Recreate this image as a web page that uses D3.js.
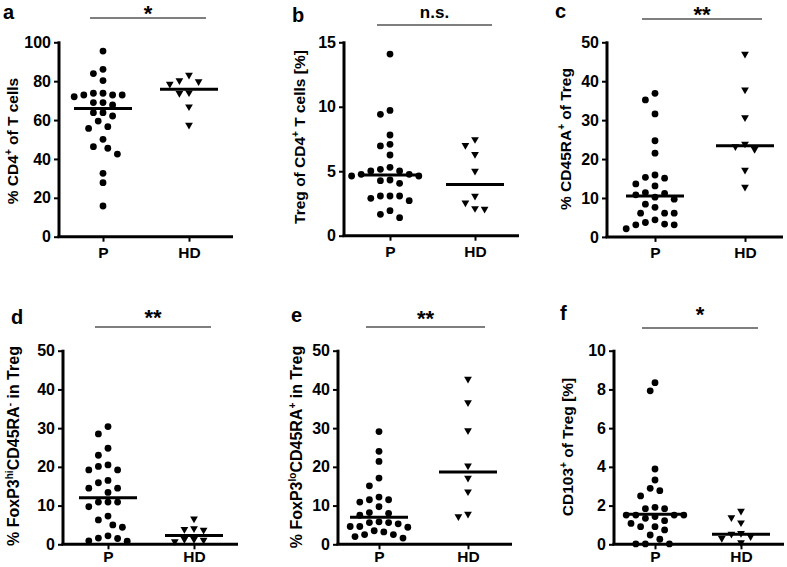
<!DOCTYPE html>
<html>
<head>
<meta charset="utf-8">
<script src="https://cdn.jsdelivr.net/npm/d3@7"></script>
<style>
  body { margin: 0; background: #fff; }
  svg text { font-family: "Liberation Sans", Arial, sans-serif; font-weight: bold; fill: #000; }
</style>
</head>
<body>
<div id="graphicContainer"></div>
<script>

var groups = ["P", "HD"];

// a: % CD4+ of T cells
var cd4P = [95.5, 86.1, 83.9, 80.3, 72.9, 72.9, 73.8, 73.8, 72.0, 72.9, 69.0, 67.8, 69.0,
            63.8, 63.8, 62.1, 59.5, 56.6, 55.7, 50.1, 46.3, 45.5, 42.5, 32.6, 27.8, 15.8];
var cd4HD = [80.3, 78.6, 79.8, 83.2, 73.8, 74.1, 66.9, 57.5];
var cd4Median = [66.0, 75.8];

// b: Treg of CD4+ T cells
var tregP = [14.09, 9.41, 9.72, 7.81, 6.96, 7.09, 6.26, 5.30, 5.02, 5.02, 5.15, 4.76, 4.63,
             4.63, 4.76, 4.32, 4.27, 4.06, 3.08, 2.90, 2.72, 3.08, 3.08, 1.94, 1.66, 1.40];
var tregHD = [7.47, 7.01, 6.31, 5.02, 3.08, 2.56, 2.07, 2.12];
var tregMedian = [4.71, 3.98];

// c: % CD45RA+ of Treg
var cd45P = [35.2, 36.9, 31.6, 24.7, 21.5, 15.3, 15.9, 15.1, 13.6, 13.1, 11.4, 10.8, 9.7,
             10.2, 11.2, 7.6, 8.4, 6.1, 6.1, 6.1, 3.7, 3.1, 2.1, 3.1, 3.3, 4.4];
var cd45HD = [47.0, 37.8, 30.7, 23.9, 22.5, 23.2, 17.2, 12.8];
var cd45Median = [10.5, 23.4];

// d: % FoxP3hi CD45RA- in Treg
var hiP = [30.4, 28.5, 24.8, 23.0, 20.5, 19.2, 19.2, 20.1, 15.9, 14.5, 14.5, 16.5, 13.4,
           10.9, 9.7, 10.9, 10.9, 7.3, 6.3, 5.0, 4.4, 2.2, 1.5, 0.8, 0.9, 1.6];
var hiHD = [6.6, 3.9, 3.7, 4.1, 1.3, 0.7, 1.1, 1.3];
var hiMedian = [12.0, 2.3];

// e: % FoxP3lo CD45RA+ in Treg
var loP = [29.1, 24.0, 21.4, 17.1, 15.1, 12.2, 11.5, 10.9, 11.5, 9.7, 8.2, 7.5, 8.0,
           5.6, 5.3, 4.6, 4.4, 4.6, 5.6, 5.8, 3.2, 2.5, 2.0, 1.6, 2.5, 3.5];
var loHD = [42.7, 36.6, 29.4, 20.3, 17.1, 13.6, 7.2, 7.8];
var loMedian = [7.0, 18.7];

// f: CD103+ of Treg
var cd103P = [8.35, 7.93, 3.89, 3.32, 2.89, 2.77, 2.50, 1.84, 1.91, 1.84, 1.51, 1.51, 1.43,
              1.51, 1.51, 1.34, 1.08, 0.91, 0.74, 0.91, 1.22, 0.48, 0.26, 0.02, 0.02, 0.02];
var cd103HD = [1.72, 1.12, 1.38, 0.40, 0.53, 0.57, 0.31, 0.09];
var cd103Median = [1.55, 0.52];

var letters = ["a", "b", "c", "d", "e", "f"];
var yMax = [100, 15, 50, 50, 50, 10];
var yStep = [20, 5, 10, 10, 10, 2];
var signif = ["*", "n.s.", "**", "**", "**", "*"];
// y titles as [text, isSuperscript] pieces
var titles = [
  [["% CD4", 0], ["+", 1], [" of T cells", 0]],
  [["Treg of CD4", 0], ["+", 1], [" T cells [%]", 0]],
  [["% CD45RA", 0], ["+", 1], [" of Treg", 0]],
  [["% FoxP3", 0], ["hi", 1], ["CD45RA", 0], ["-", 1], [" in Treg", 0]],
  [["% FoxP3", 0], ["lo", 1], ["CD45RA", 0], ["+", 1], [" in Treg", 0]],
  [["CD103", 0], ["+", 1], [" of Treg [%]", 0]]
];
var pValues = [cd4P, tregP, cd45P, hiP, loP, cd103P];
var hdValues = [cd4HD, tregHD, cd45HD, hiHD, loHD, cd103HD];
var medians = [cd4Median, tregMedian, cd45Median, hiMedian, loMedian, cd103Median];

// layout (page pixels)
var layout = [
  {ax: 59,  axEnd: 233, top: 42.3,  bot: 236.7, px: 103, hx: 189, sigY: 18,  starY: 20.5, letter: [3, 18.5],  title: [12.5, 141], tsize: 15.5, xpad: 5},
  {ax: 344, axEnd: 519, top: 42.3,  bot: 235.7, px: 390, hx: 475, sigY: 25,  starY: 17.5, letter: [292, 22],  title: [300, 137], tsize: 15.5, xpad: 5},
  {ax: 607, axEnd: 783, top: 42.3,  bot: 236.9, px: 655, hx: 745, sigY: 19,  starY: 22,   letter: [555, 18],  title: [566, 139], tsize: 15.5, xpad: 5},
  {ax: 63,  axEnd: 238, top: 350.7, bot: 544.3, px: 108, hx: 194, sigY: 327, starY: 325,  letter: [11, 324],  title: [14, 446],  tsize: 16,   xpad: 2},
  {ax: 338, axEnd: 512, top: 350.7, bot: 544.3, px: 379, hx: 468, sigY: 327, starY: 326,  letter: [291, 322], title: [297, 447], tsize: 16,   xpad: 2},
  {ax: 614, axEnd: 784, top: 350.7, bot: 544.3, px: 655, hx: 741, sigY: 328, starY: 322,  letter: [560, 320], title: [568, 447], tsize: 15.5, xpad: 2}
];

var svg = d3.select("#graphicContainer").append("svg")
    .attr("width", 787)
    .attr("height", 567);

// simple column-scatter placement: nearest free offset to the group centre
function swarm(vals, y, cx) {
  var minDist = 9.2, step = 4.8;
  var placed = [];
  var sorted = vals.slice().sort(function(a, b) { return b - a; });
  sorted.forEach(function(v) {
    var py = y(v);
    for (var k = 0; k < 40; k++) {
      var off = (k % 2 === 0 ? 1 : -1) * Math.ceil(k / 2) * step;
      var ok = placed.every(function(p) {
        var dx = p.x - (cx + off), dy = p.y - py;
        return dx * dx + dy * dy >= minDist * minDist;
      });
      if (ok) { placed.push({x: cx + off, y: py}); break; }
    }
  });
  return placed;
}

var triangle = d3.symbol().type(d3.symbolTriangle).size(26);

layout.forEach(function(L, i) {

  var g = svg.append("g");

  var y = d3.scaleLinear().domain([0, yMax[i]]).range([L.bot, L.top]);
  var x = d3.scalePoint().domain(groups).range([L.px, L.hx]);

  // y axis
  var yAxis = d3.axisLeft(y)
      .tickValues(d3.range(0, yMax[i] + yStep[i] / 2, yStep[i]))
      .tickSize(5).tickSizeOuter(0).tickPadding(3);

  var ya = g.append("g")
      .attr("transform", "translate(" + L.ax + ",0)")
      .call(yAxis);
  ya.select(".domain").attr("stroke-width", 3).attr("d", "M0," + (L.top - 1) + "V" + L.bot);
  ya.selectAll(".tick line").attr("stroke-width", 2);
  ya.selectAll(".tick text").style("font-size", "16px").style("font-family", "Liberation Sans, Arial").style("font-weight", "bold");

  // x axis
  var xa = g.append("g")
      .attr("transform", "translate(0," + L.bot + ")")
      .call(d3.axisBottom(x).tickSize(5).tickSizeOuter(0).tickPadding(L.xpad));
  xa.select(".domain").attr("stroke-width", 3).attr("d", "M" + (L.ax - 1.5) + ",0H" + L.axEnd);
  xa.selectAll(".tick line").attr("stroke-width", 2);
  xa.selectAll(".tick text").style("font-size", "15.5px").style("font-family", "Liberation Sans, Arial").style("font-weight", "bold");

  // points
  swarm(pValues[i], y, x("P")).forEach(function(p) {
    g.append("circle").attr("cx", p.x).attr("cy", p.y).attr("r", 3.4).attr("fill", "#000");
  });
  swarm(hdValues[i], y, x("HD")).forEach(function(p) {
    g.append("path").attr("d", triangle)
      .attr("transform", "translate(" + p.x + "," + p.y + ") rotate(180)")
      .attr("fill", "#000");
  });

  // medians
  groups.forEach(function(grp, j) {
    g.append("line")
      .attr("x1", x(grp) - 29).attr("x2", x(grp) + 29)
      .attr("y1", y(medians[i][j])).attr("y2", y(medians[i][j]))
      .attr("stroke", "#000").attr("stroke-width", 3);
  });

  // significance bar
  g.append("line")
    .attr("x1", x("P") - 13).attr("x2", x("HD") + 17)
    .attr("y1", L.sigY).attr("y2", L.sigY)
    .attr("stroke", "#000").attr("stroke-width", 1.2);
  g.append("text")
    .attr("x", (x("P") - 13 + x("HD") + 17) / 2)
    .attr("y", L.starY)
    .attr("text-anchor", "middle")
    .style("font-size", signif[i] === "n.s." ? "17px" : "22px")
    .text(signif[i]);

  // panel letter
  g.append("text")
    .attr("x", L.letter[0]).attr("y", L.letter[1])
    .style("font-size", "20px")
    .text(letters[i]);

  // y title
  var t = g.append("text")
    .attr("transform", "translate(" + (L.title[0] + 5) + "," + L.title[1] + ") rotate(-90)")
    .attr("text-anchor", "middle")
    .style("font-size", L.tsize + "px");
  titles[i].forEach(function(part, k) {
    var ts = t.append("tspan").text(part[0]);
    if (part[1]) ts.attr("dy", -6).style("font-size", "10px");
    else if (k > 0) ts.attr("dy", 6);
  });
});

</script>
</body>
</html>
